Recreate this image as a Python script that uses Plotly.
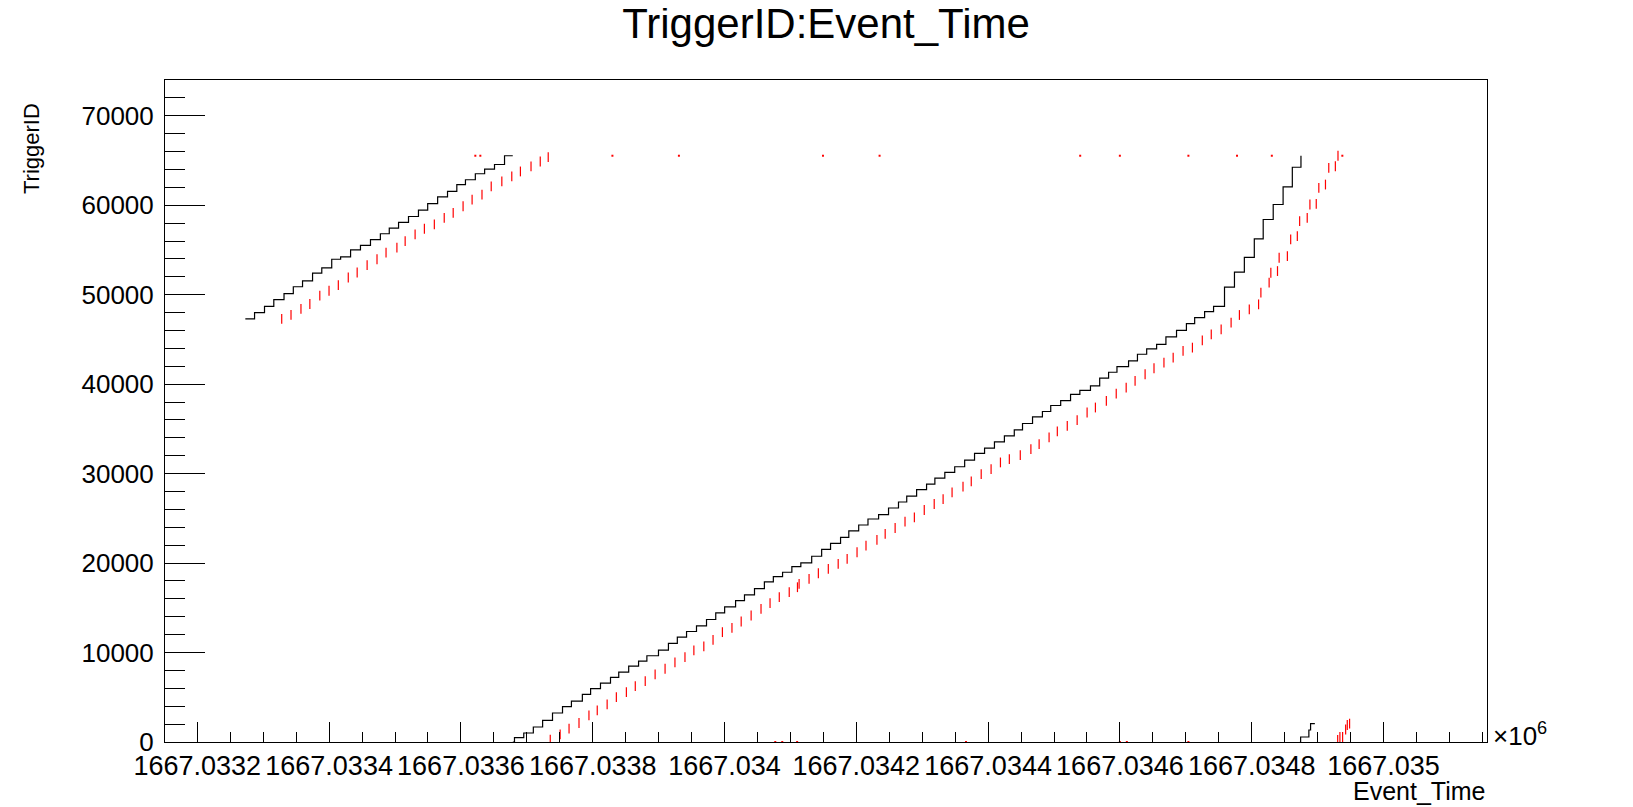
import plotly.graph_objects as go

# ---------------- data ----------------
# black series: TriggerID vs Event_Time (staircase corners)
black_upper_t = [1667033272.9, 1667033286.9, 1667033302.0, 1667033316.1, 1667033331.6, 1667033345.7,
                 1667033359.7, 1667033374.9, 1667033388.9, 1667033404.0, 1667033417.5, 1667033432.6,
                 1667033447.6, 1667033462.8, 1667033477.8, 1667033491.3, 1667033505.4, 1667033520.5,
                 1667033535.6, 1667033549.6, 1667033564.7, 1667033579.7, 1667033593.8, 1667033606.9,
                 1667033621.9, 1667033636.0, 1667033651.0, 1667033666.2, 1667033678.7]
black_upper_id = [47295, 47999, 48703, 49444, 50110, 50888, 51555, 52407, 53000, 53963, 54222, 55000,
                  55518, 56148, 56815, 57444, 58074, 58741, 59445, 60185, 60926, 61556, 62297, 62852,
                  63519, 64037, 64556, 65535, 65535]

black_main_t = [1667033678.8, 1667033681.3, 1667033695.4, 1667033709.9, 1667033724.0, 1667033739.0,
                1667033754.2, 1667033767.7, 1667033784.3, 1667033796.8, 1667033811.8, 1667033827.0,
                1667033839.5, 1667033854.6, 1667033869.6, 1667033882.2, 1667033899.8, 1667033914.9,
                1667033928.4, 1667033942.4, 1667033957.5, 1667033972.7, 1667033986.7, 1667034000.2,
                1667034016.8, 1667034030.3, 1667034045.5, 1667034060.5, 1667034074.1, 1667034088.1,
                1667034102.2, 1667034115.8, 1667034132.3, 1667034147.4, 1667034160.9, 1667034176.1,
                1667034188.6, 1667034203.6, 1667034217.7, 1667034233.8, 1667034248.9, 1667034264.0,
                1667034276.5, 1667034291.5, 1667034306.6, 1667034319.2, 1667034334.3, 1667034349.3,
                1667034364.4, 1667034379.4, 1667034394.6, 1667034409.6, 1667034424.7, 1667034439.7,
                1667034452.2, 1667034467.4, 1667034482.4, 1667034495.0, 1667034510.1, 1667034525.1,
                1667034539.2, 1667034555.3, 1667034569.3, 1667034582.8, 1667034595.5, 1667034613.1,
                1667034626.6, 1667034640.6, 1667034655.7, 1667034669.8, 1667034685.9, 1667034700.9,
                1667034713.4, 1667034728.5, 1667034742.1, 1667034758.7, 1667034773.8, 1667034788.8,
                1667034803.9, 1667034817.4, 1667034832.6, 1667034847.6, 1667034861.6, 1667034874.7]
black_main_id = [0, 488, 1008, 1678, 2422, 3240, 3947, 4580, 5324, 5956, 6588, 7221, 7816, 8486, 9044,
                 9639, 10271, 11015, 11722, 12354, 12987, 13694, 14438, 15107, 15814, 16446, 17153,
                 17897, 18492, 18976, 19608, 20018, 20762, 21543, 22212, 22882, 23589, 24258, 24928,
                 25412, 26156, 26825, 27495, 28202, 28834, 29504, 30136, 30768, 31512, 32256, 32852,
                 33558, 34228, 34898, 35604, 36348, 36944, 37613, 38150, 38850, 39300, 39808, 40664,
                 41333, 41966, 42598, 43342, 43937, 44458, 45276, 46020, 46764, 47434, 48104, 48700,
                 50856, 52530, 54167, 56250, 58408, 60082, 62054, 64248, 65535]

black_wrap_t = [1667034873.1, 1667034874.2, 1667034886.7, 1667034889.3, 1667034895.8]
black_wrap_id = [0, 558, 1340, 2053, 2053]

# red series (second time stamp), dash centres
red_t = [1667033328.1, 1667033342.2, 1667033357.3, 1667033370.8, 1667033385.9, 1667033399.9,
         1667033414.0, 1667033429.1, 1667033442.6, 1667033457.7, 1667033472.7, 1667033486.4,
         1667033502.9, 1667033515.4, 1667033530.5, 1667033544.6, 1667033559.7, 1667033574.7,
         1667033588.3, 1667033603.3, 1667033617.0, 1667033632.0, 1667033646.0, 1667033662.1,
         1667033677.2, 1667033690.3, 1667033706.4, 1667033720.4, 1667033732.5,
         1667033735.6, 1667033750.6, 1667033764.1, 1667033779.2, 1667033794.3, 1667033806.9,
         1667033821.9, 1667033835.9, 1667033851.1, 1667033864.6, 1667033879.7, 1667033894.7,
         1667033909.8, 1667033924.8, 1667033940.0, 1667033953.5, 1667033968.6, 1667033982.6,
         1667033996.8, 1667034011.3, 1667034025.3, 1667034040.4, 1667034055.4, 1667034069.1,
         1667034083.1, 1667034098.2, 1667034110.7,
         1667034113.2, 1667034128.3, 1667034142.4, 1667034157.5, 1667034172.5, 1667034186.1,
         1667034201.1, 1667034214.7, 1667034231.3, 1667034243.8, 1667034258.9, 1667034273.9,
         1667034288.1, 1667034303.1, 1667034318.2, 1667034331.7, 1667034345.3, 1667034361.9,
         1667034374.4, 1667034389.5, 1667034404.5, 1667034418.7, 1667034432.2, 1667034448.8,
         1667034464.9, 1667034477.4, 1667034492.5, 1667034505.0, 1667034520.1, 1667034535.1,
         1667034550.2, 1667034562.8,
         1667034579.4, 1667034594.4, 1667034609.5, 1667034623.0, 1667034638.2, 1667034651.7,
         1667034666.8, 1667034680.8, 1667034695.8, 1667034710.0,
         1667034725.0, 1667034738.6, 1667034753.6, 1667034768.7, 1667034781.3, 1667034796.3,
         1667034810.4, 1667034813.9, 1667034826.4, 1667034829.0, 1667034839.1, 1667034841.6,
         1667034854.1, 1667034859.1, 1667034869.2, 1667034872.7, 1667034884.2, 1667034888.3,
         1667034897.9, 1667034901.8, 1667034911.9, 1667034916.9, 1667034926.9, 1667034930.9,
         1667034930.4, 1667034933.8, 1667034937.9, 1667034942.5, 1667034945.0, 1667034948.5]
red_id = [47295, 47740, 48407, 48962, 49888, 50444, 51074, 51925, 52481, 53296, 53962, 54703,
          55259, 55999, 56740, 57370, 57852, 58593, 59148, 59889, 60630, 61185, 62111, 62667,
          63223, 63778, 64334, 64889, 65371,
          264, 860, 1492, 2124, 2980, 3538, 4208, 5026, 5584, 6254, 6812, 7556, 8188, 8895, 9490,
          10234, 10680, 11424, 12280, 12764, 13470, 14140, 14884, 15516, 16186, 16744, 17302,
          17674, 18232, 18864, 19348, 19906, 20464, 21208, 21952, 22584, 23254, 23924, 24630,
          25114, 25932, 26602, 27160, 27904, 28536, 29132, 29950, 30508, 31252, 31624, 32070,
          32740, 33298, 34042, 34712, 35344, 35976, 36832, 37390,
          38134, 38952, 39622, 40366, 41110, 41780, 42412, 42970, 43714, 44086,
          44904, 45574, 46132, 46876, 47732, 48364, 48922, 50224, 51340, 52456, 52642, 54130,
          54316, 56176, 56548, 58222, 58594, 60082, 60156, 61942, 62314, 64174, 64360, 65535,
          223, 558, 558, 1400, 1900, 2053]

# isolated red points at the wrap levels
red_dot_t = [1667033621.9, 1667033629.5, 1667033829.9, 1667033930.8, 1667034149.4, 1667034235.3,
             1667034539.7, 1667034599.9, 1667034703.9, 1667034777.7, 1667034830.5, 1667034937.5,
             1667034077.0, 1667034087.6, 1667034110.2, 1667034366.4, 1667034599.9, 1667034610.5,
             1667034703.9]
red_dot_id = [65535, 65535, 65535, 65535, 65535, 65535, 65535, 65535, 65535, 65535, 65535, 65535,
              0, 0, 0, 0, 0, 0, 0]

x_tick_vals = [1667033200, 1667033400, 1667033600, 1667033800, 1667034000,
               1667034200, 1667034400, 1667034600, 1667034800, 1667035000]
x_tick_text = ["1667.0332", "1667.0334", "1667.0336", "1667.0338", "1667.034",
               "1667.0342", "1667.0344", "1667.0346", "1667.0348", "1667.035"]
y_tick_vals = [0, 10000, 20000, 30000, 40000, 50000, 60000, 70000]
y_tick_text = ["0", "10000", "20000", "30000", "40000", "50000", "60000", "70000"]

# ---------------- figure ----------------
FONT = "Liberation Sans, Arial, Helvetica, sans-serif"
L, R, T, B = 157, 154, 72, 73
W, H = 1633, 807
PW, PH = W - L - R, H - T - B

fig = go.Figure()

for tx, ty in [(black_upper_t, black_upper_id), (black_main_t, black_main_id),
               (black_wrap_t, black_wrap_id)]:
    fig.add_trace(go.Scatter(x=tx, y=ty, mode="lines", line=dict(color="black", width=1.2, shape="hv"),
                             hoverinfo="x+y", showlegend=False))

fig.add_trace(go.Scatter(x=red_t, y=red_id, mode="markers",
                         marker=dict(symbol="line-ns", size=7, color="red",
                                     line=dict(width=1.2, color="red")),
                         showlegend=False))
fig.add_trace(go.Scatter(x=red_dot_t, y=red_dot_id, mode="markers",
                         marker=dict(symbol="square", size=2, color="red", line=dict(width=0)),
                         showlegend=False))

fig.update_layout(
    width=W, height=H,
    margin=dict(l=L, r=R, t=T, b=B, pad=0),
    paper_bgcolor="white", plot_bgcolor="white",
    font=dict(family=FONT, color="black", size=26),
    title=dict(text="TriggerID:Event_Time", x=0.5, xref="paper", xanchor="center",
               y=1 - 1 / H, yref="container", yanchor="top",
               font=dict(family=FONT, size=42, color="black")),
    showlegend=False,
)

fig.update_xaxes(
    range=[1667033151.0, 1667035157.0],
    tickmode="array", tickvals=x_tick_vals, ticktext=x_tick_text,
    ticks="inside", ticklen=20, tickwidth=1, tickcolor="black",
    minor=dict(tickmode="linear", tick0=1667033200, dtick=50, ticks="inside",
               ticklen=10, tickwidth=1, tickcolor="black", showgrid=False),
    showline=True, linecolor="black", linewidth=1, mirror=True,
    showgrid=False, zeroline=False,
    tickfont=dict(family=FONT, size=27, color="black"),
    ticklabelstandoff=0,
)
fig.update_yaxes(
    range=[0, 74000],
    tickmode="array", tickvals=y_tick_vals, ticktext=y_tick_text,
    ticks="inside", ticklen=40, tickwidth=1, tickcolor="black",
    minor=dict(tickmode="linear", tick0=0, dtick=2000, ticks="inside",
               ticklen=20, tickwidth=1, tickcolor="black", showgrid=False),
    showline=True, linecolor="black", linewidth=1, mirror=True,
    showgrid=False, zeroline=False,
    tickfont=dict(family=FONT, size=26, color="black"),
    ticklabelstandoff=5,
)

fig.add_annotation(text="TriggerID", textangle=-90, showarrow=False,
                   xref="paper", yref="paper", x=(24 - L) / PW, y=(H - B - 141) / PH,
                   xanchor="center", yanchor="middle",
                   font=dict(family=FONT, size=22, color="black"))
fig.add_annotation(text="Event_Time", showarrow=False,
                   xref="paper", yref="paper", x=1.0, y=(H - B - 783) / PH,
                   xanchor="right", yanchor="middle",
                   font=dict(family=FONT, size=25, color="black"))
fig.add_annotation(text="×10<sup>6</sup>", showarrow=False,
                   xref="paper", yref="paper", x=(W - R + 4 - L) / PW, y=8 / PH,
                   xanchor="left", yanchor="middle",
                   font=dict(family=FONT, size=26, color="black"))

fig.write_html("out.html")
